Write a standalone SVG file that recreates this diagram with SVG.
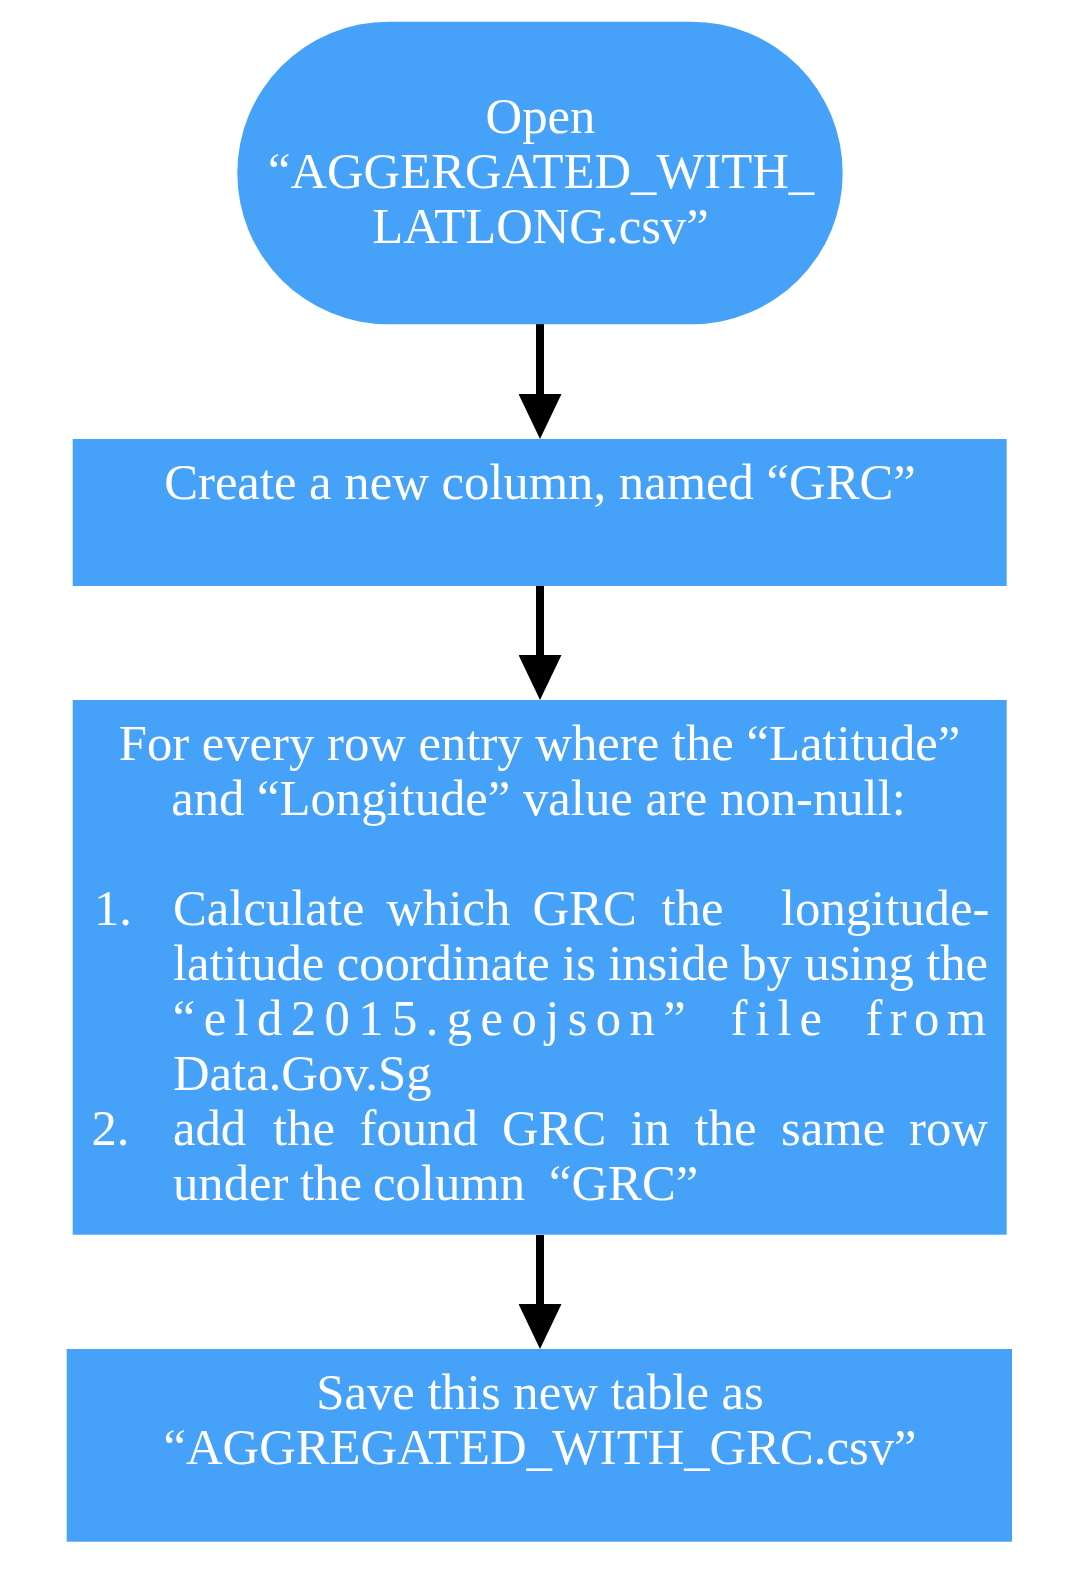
<svg xmlns="http://www.w3.org/2000/svg" width="1068" height="1576" viewBox="0 0 1068 1576">
<style>
.node{fill:#46A2F8;}
.t{font-family:"Liberation Serif","Times New Roman",serif;font-size:50.7px;fill:#FFFFFF;}
.c{text-anchor:middle;}
.edge{stroke:#000000;stroke-width:8;fill:none;}
</style>
<defs>
<marker id="arrow" viewBox="0 0 45 43" refX="6" refY="21.5" markerWidth="45" markerHeight="43" markerUnits="userSpaceOnUse" orient="auto">
<path d="M0,0 L45,21.5 L0,43 Z" fill="#000000"/>
</marker>
</defs>
<rect width="1068" height="1576" fill="#FFFFFF"/>
<g id="connectors">
<line class="edge" x1="540" y1="324" x2="540" y2="400" marker-end="url(#arrow)"/>
<line class="edge" x1="540" y1="586" x2="540" y2="661" marker-end="url(#arrow)"/>
<line class="edge" x1="540" y1="1235" x2="540" y2="1310" marker-end="url(#arrow)"/>
</g>
<g id="node-open">
<rect class="node" x="237.3" y="21.7" width="605.4" height="302.6" rx="151.3" ry="151.3"/>
<text class="t c" x="540.5" y="133.3">Open</text>
<text class="t c" x="541" y="187.7">“AGGERGATED_WITH_</text>
<text class="t c" x="540.5" y="242.7">LATLONG.csv”</text>
</g>
<g id="node-create">
<rect class="node" x="72.7" y="439" width="934" height="147"/>
<text class="t c" x="540" y="499">Create a new column, named “GRC”</text>
</g>
<g id="node-foreach">
<rect class="node" x="72.7" y="700" width="934" height="534.7"/>
<text class="t c" x="539.5" y="760">For every row entry where the “Latitude”</text>
<text class="t c" x="538.5" y="814.5">and “Longitude” value are non-null:</text>
<text class="t" y="925"><tspan x="94">1.</tspan><tspan x="173">Calculate</tspan><tspan x="386.5">which</tspan><tspan x="532.5">GRC</tspan><tspan x="661.5">the</tspan><tspan x="781">longitude-</tspan></text>
<text class="t" x="173" y="980" textLength="815" lengthAdjust="spacing">latitude coordinate is inside by using the</text>
<text class="t" y="1035"><tspan x="172.8" style="letter-spacing:8.4px">“eld2015.geojson”</tspan><tspan x="730.5" style="letter-spacing:8px">file</tspan><tspan x="865.5" style="letter-spacing:7.4px">from</tspan></text>
<text class="t" x="173" y="1090">Data.Gov.Sg</text>
<text class="t" y="1145"><tspan x="91.5">2.</tspan><tspan x="173">add</tspan><tspan x="273">the</tspan><tspan x="359.5">found</tspan><tspan x="502">GRC</tspan><tspan x="630.5">in</tspan><tspan x="694.5">the</tspan><tspan x="781">same</tspan><tspan x="909">row</tspan></text>
<text class="t" y="1200"><tspan x="173">under</tspan><tspan x="300">the</tspan><tspan x="373">column</tspan><tspan x="549">“GRC”</tspan></text>
</g>
<g id="node-save">
<rect class="node" x="66.7" y="1349" width="945.3" height="192.7"/>
<text class="t c" x="540" y="1409.3">Save this new table as</text>
<text class="t c" x="540" y="1464">“AGGREGATED_WITH_GRC.csv”</text>
</g>
</svg>
